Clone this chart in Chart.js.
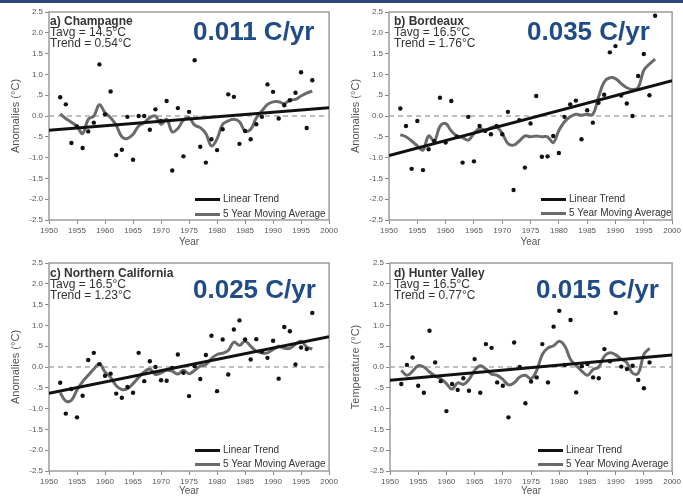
<!DOCTYPE html>
<html><head><meta charset="utf-8">
<script src="https://cdn.jsdelivr.net/npm/chart.js@4"></script>
<style>
html,body{margin:0;padding:0;background:#fff;}
body{width:683px;height:497px;position:relative;overflow:hidden;font-family:"Liberation Sans",Arial,sans-serif;}
#topbar{position:absolute;left:0;top:0;width:683px;height:3px;background:#2e4677;}
canvas{position:absolute;}
.info{position:absolute;font-size:12px;line-height:11px;color:#333;white-space:nowrap;}
.info .t{font-weight:bold;}
.rate{position:absolute;font-size:26px;line-height:26px;font-weight:bold;color:#1f4b86;white-space:nowrap;}
.leg{position:absolute;width:1px;height:1px;}
.leg .sw{position:absolute;left:0;top:-1.5px;width:25px;height:3px;}
.leg .tx{position:absolute;left:28px;top:-6px;font-size:10px;line-height:12px;color:#333;white-space:nowrap;}
</style></head>
<body>
<div id="topbar"></div>
<canvas id="cA" width="340" height="248" style="left:0;top:0"></canvas>
<canvas id="cB" width="343" height="248" style="left:340px;top:0"></canvas>
<canvas id="cC" width="340" height="247" style="left:0;top:250px"></canvas>
<canvas id="cD" width="343" height="247" style="left:340px;top:250px"></canvas>
<div id="overlay"></div>
<script>
// ---- data ----
const years = [1952,1953,1954,1955,1956,1957,1958,1959,1960,1961,1962,1963,1964,1965,1966,1967,1968,1969,1970,1971,1972,1973,1974,1975,1976,1977,1978,1979,1980,1981,1982,1983,1984,1985,1986,1987,1988,1989,1990,1991,1992,1993,1994,1995,1996,1997];
const hunterYears = [1952,1953,1954,1955,1956,1957,1958,1959,1960,1961,1962,1963,1964,1965,1966,1967,1968,1969,1970,1971,1972,1973,1974,1975,1976,1977,1978,1979,1980,1981,1982,1983,1984,1985,1986,1987,1988,1989,1990,1991,1992,1993,1994,1995,1996];

const champagneAnom = [0.45,0.28,-0.65,-0.25,-0.77,-0.37,-0.16,1.24,0.04,0.59,-0.94,-0.81,-0.02,-1.05,0.0,0.0,-0.33,0.16,-0.12,0.36,-1.31,0.19,-0.97,0.1,1.34,-0.74,-1.12,-0.56,-0.82,-0.32,0.52,0.46,-0.67,-0.36,-0.56,-0.2,-0.02,0.76,0.58,-0.06,0.26,0.38,0.56,1.05,-0.29,0.86];
const champagneMA = [0.05,-0.06,-0.15,-0.25,-0.42,-0.08,0.0,0.27,0.08,-0.04,-0.22,-0.5,-0.54,-0.44,-0.24,-0.16,-0.04,0.0,-0.2,-0.08,-0.38,-0.3,-0.1,-0.04,-0.22,-0.28,-0.42,-0.72,-0.55,-0.2,-0.12,-0.08,-0.14,-0.36,-0.32,-0.05,0.12,0.28,0.34,0.34,0.3,0.38,0.4,0.48,0.55,0.6];
const champagneTrend = [-0.34, 0.2];

const bordeauxAnom = [0.18,-0.24,-1.27,-0.12,-1.3,-0.8,-0.6,0.44,-0.64,0.36,-0.5,-1.12,-0.02,-1.09,-0.24,-0.36,-0.44,-0.24,-0.44,0.1,-1.78,-0.1,-1.24,-0.18,0.48,-0.98,-0.97,-0.48,-0.89,-0.02,0.28,0.37,-0.56,0.14,-0.16,0.32,0.51,1.53,1.68,0.49,0.3,0.0,0.96,1.49,0.5,2.41];
const bordeauxMA = [-0.45,-0.5,-0.6,-0.72,-0.82,-0.48,-0.6,-0.25,-0.18,-0.36,-0.48,-0.52,-0.58,-0.42,-0.3,-0.34,-0.28,-0.26,-0.42,-0.66,-0.7,-0.6,-0.48,-0.5,-0.48,-0.5,-0.5,-0.64,-0.35,-0.14,-0.02,0.04,0.02,0.04,0.04,0.45,0.82,0.92,0.9,0.78,0.68,0.64,0.68,1.1,1.25,1.37];
const bordeauxTrend = [-0.95, 0.85];

const ncalAnom = [-0.38,-1.12,-0.53,-1.21,-0.69,0.17,0.34,0.07,-0.21,-0.16,-0.64,-0.74,-0.48,-0.62,0.34,-0.34,0.14,0.0,-0.32,-0.33,-0.02,0.3,-0.14,-0.7,0.02,-0.29,0.29,0.75,-0.58,0.66,-0.18,0.9,1.12,0.66,0.18,0.67,0.37,0.22,0.63,-0.28,0.96,0.86,0.06,0.47,0.43,1.3];
const ncalMA = [-0.62,-0.82,-0.8,-0.55,-0.35,-0.2,-0.05,0.08,-0.12,-0.25,-0.45,-0.54,-0.52,-0.4,-0.25,-0.12,-0.05,-0.18,-0.14,-0.08,-0.1,-0.17,-0.08,-0.16,-0.08,0.02,0.06,0.2,0.3,0.33,0.4,0.6,0.52,0.62,0.5,0.38,0.34,0.34,0.42,0.5,0.45,0.45,0.55,0.62,0.48,0.43];
const ncalTrend = [-0.63, 0.73];

const hunterAnom = [-0.41,0.05,0.23,-0.45,-0.62,0.87,0.11,-0.34,-1.06,-0.41,-0.55,-0.27,-0.57,0.19,-0.62,0.55,0.46,-0.37,-0.45,-1.21,0.59,0.0,-0.87,-0.35,-0.25,0.55,-0.37,0.97,1.35,0.05,1.13,-0.61,0.02,0.07,-0.25,-0.27,0.43,0.14,1.3,0.01,-0.05,0.03,-0.31,-0.51,0.11];
const hunterMA = [-0.08,-0.2,-0.1,0.03,0.0,-0.12,-0.22,-0.28,-0.4,-0.53,-0.38,-0.42,-0.3,-0.08,0.03,-0.05,-0.17,-0.2,-0.3,-0.43,-0.38,-0.24,-0.2,-0.28,-0.08,0.3,0.46,0.51,0.62,0.5,0.18,0.04,-0.1,-0.2,-0.06,0.0,0.26,0.34,0.29,0.19,0.1,-0.15,-0.15,0.3,0.45];
const hunterTrend = [-0.32, 0.29];

const trendYears = [1950, 2000];
const zeroLine = [0, 0];

const xTickValues = [1950,1955,1960,1965,1970,1975,1980,1985,1990,1995,2000];
const xTickLabels = ["1950","1955","1960","1965","1970","1975","1980","1985","1990","1995","2000"];
const yTickValues = [2.5,2.0,1.5,1.0,0.5,0.0,-0.5,-1.0,-1.5,-2.0,-2.5];
const yTickLabels = ["2.5","2.0","1.5","1.0",".5","0.0","-.5","-1.0","-1.5","-2.0","-2.5"];

const panelTitles = ["a) Champagne","b) Bordeaux","c) Northern California","d) Hunter Valley"];
const panelTavg = ["Tavg = 14.5°C","Tavg = 16.5°C","Tavg = 16.5°C","Tavg = 16.5°C"];
const panelTrendText = ["Trend = 0.54°C","Trend = 1.76°C","Trend = 1.23°C","Trend = 0.77°C"];
const panelRates = ["0.011 C/yr","0.035 C/yr","0.025 C/yr","0.015 C/yr"];
const yTitles = ["Anomalies (°C)","Anomalies (°C)","Anomalies (°C)","Temperature (°C)"];
const legendLabels = ["Linear Trend","5 Year Moving Average"];

// ---- drawing ----
const pts = (xs, ys) => ys.map((v, i) => ({x: xs[i], y: v}));

const framePlugin = {
  id: 'frame',
  beforeDatasetsDraw(chart) {
    const {ctx, chartArea: a} = chart;
    ctx.save();
    ctx.strokeStyle = '#9c9c9c';
    ctx.lineWidth = 1.5;
    ctx.strokeRect(a.left, a.top, a.right - a.left, a.bottom - a.top);
    ctx.restore();
  }
};

const layouts = [
  {id:'cA', yW:49, xH:28, padTop:12, padRight:10},
  {id:'cB', yW:49, xH:28, padTop:12, padRight:10},
  {id:'cC', yW:49, xH:26, padTop:13, padRight:10},
  {id:'cD', yW:50, xH:26, padTop:13, padRight:10}
];
const series = [
  {xs: years, anom: champagneAnom, ma: champagneMA, tr: champagneTrend},
  {xs: years, anom: bordeauxAnom, ma: bordeauxMA, tr: bordeauxTrend},
  {xs: years, anom: ncalAnom, ma: ncalMA, tr: ncalTrend},
  {xs: hunterYears, anom: hunterAnom, ma: hunterMA, tr: hunterTrend}
];

const tickFont = {family:'Liberation Sans', size:8};

layouts.forEach((L, p) => {
  const s = series[p];
  new Chart(document.getElementById(L.id), {
    type: 'scatter',
    data: {
      datasets: [
        {data: pts(s.xs, s.anom), showLine:false, pointRadius:2.2, pointBackgroundColor:'#111', pointBorderWidth:0, order:0},
        {data: pts(trendYears, s.tr), showLine:true, pointRadius:0, borderColor:'#111', borderWidth:3, order:1},
        {data: pts(s.xs, s.ma), showLine:true, pointRadius:0, borderColor:'#6a6a6a', borderWidth:3, tension:0.4, order:2},
        {data: pts(trendYears, zeroLine), showLine:true, pointRadius:0, borderColor:'#aaaaaa', borderWidth:1.5, borderDash:[5,4], order:3}
      ]
    },
    options: {
      responsive:false, animation:false, events:[],
      layout:{padding:{top:L.padTop, right:L.padRight, left:0, bottom:0}},
      plugins:{legend:{display:false}, tooltip:{enabled:false}},
      scales:{
        x:{
          type:'linear', min:1950, max:2000, offset:false,
          afterFit:(sc)=>{ sc.height = L.xH; },
          afterBuildTicks:(sc)=>{ sc.ticks = xTickValues.map(v=>({value:v})); },
          border:{display:false},
          grid:{drawOnChartArea:false, drawTicks:true, tickLength:4, tickColor:'#888'},
          ticks:{autoSkip:false, maxRotation:0, padding:2, color:'#555', font:tickFont,
            callback:(v)=>{ const i = xTickValues.indexOf(v); return i>=0 ? xTickLabels[i] : ''; }},
          title:{display:true, text:'Year', color:'#555', font:{family:'Liberation Sans', size:10}, padding:{top:0,bottom:0}}
        },
        y:{
          type:'linear', min:-2.5, max:2.5,
          afterFit:(sc)=>{ sc.width = L.yW; },
          afterBuildTicks:(sc)=>{ sc.ticks = yTickValues.slice().reverse().map(v=>({value:v})); },
          border:{display:false},
          grid:{drawOnChartArea:false, drawTicks:true, tickLength:4, tickColor:'#888'},
          ticks:{padding:2, color:'#555', font:tickFont,
            callback:(v)=>{ const i = yTickValues.findIndex(t=>Math.abs(t-v)<1e-9); return i>=0 ? yTickLabels[i] : ''; }},
          title:{display:true, text:yTitles[p], color:'#555', font:{family:'Liberation Sans', size:11}, padding:{top:9,bottom:0}}
        }
      }
    },
    plugins:[framePlugin]
  });
});

// ---- text overlays ----
const infoPos = [[50,16],[394,16],[50,268],[394,268]];
const ratePos = [[193,18],[527,18],[193,276],[536,276]];
const legPos = [[195,199,214],[541,199,213],[195,450,464],[538,450,464]];
const ov = document.getElementById('overlay');
for (let p = 0; p < 4; p++) {
  const info = document.createElement('div');
  info.className = 'info';
  info.style.left = infoPos[p][0] + 'px';
  info.style.top = infoPos[p][1] + 'px';
  info.innerHTML = '<div class="t"></div><div></div><div></div>';
  info.children[0].textContent = panelTitles[p];
  info.children[1].textContent = panelTavg[p];
  info.children[2].textContent = panelTrendText[p];
  ov.appendChild(info);

  const r = document.createElement('div');
  r.className = 'rate';
  r.style.left = ratePos[p][0] + 'px';
  r.style.top = ratePos[p][1] + 'px';
  r.textContent = panelRates[p];
  ov.appendChild(r);

  const colors = ['#111', '#6a6a6a'];
  for (let k = 0; k < 2; k++) {
    const lg = document.createElement('div');
    lg.className = 'leg';
    lg.style.left = legPos[p][0] + 'px';
    lg.style.top = legPos[p][1 + k] + 'px';
    lg.innerHTML = '<div class="sw"></div><div class="tx"></div>';
    lg.children[0].style.background = colors[k];
    lg.children[1].textContent = legendLabels[k];
    ov.appendChild(lg);
  }
}
</script>
</body></html>
